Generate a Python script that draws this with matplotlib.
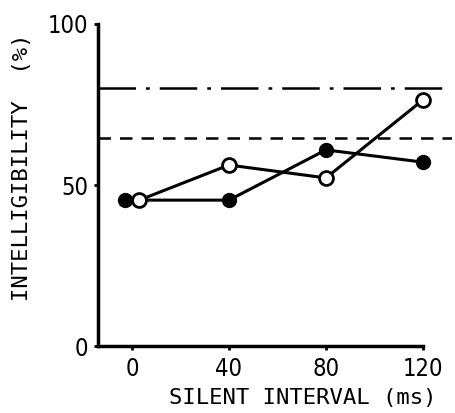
"""Intelligibility vs. silent interval, two listener conditions."""
import matplotlib
matplotlib.use("Agg")
import matplotlib.pyplot as plt

# silent interval (ms); small horizontal offsets at 0 as in the original
filled_x = [-3, 40, 80, 120]
filled_y = [45.3, 45.3, 60.9, 57.1]
open_x = [3, 40, 80, 120]
open_y = [45.3, 56.2, 52.2, 76.4]

ref_dashdot = 80.1
ref_dashed = 64.6

x_ticks = [0, 40, 80, 120]
y_ticks = [0, 50, 100]

MONO = "DejaVu Sans Mono"


def main():
    fig = plt.figure(figsize=(4.55, 4.13), dpi=100)
    ax = fig.add_axes([0.2154, 0.1622, 0.778, 0.7797])

    ax.axhline(ref_dashdot, color="black", lw=1.8, ls=(0, (15, 4, 1.5, 4)))
    ax.axhline(ref_dashed, color="black", lw=1.8, ls=(0, (5, 3.6)))

    ax.plot(filled_x, filled_y, color="black", lw=2.2, marker="o", ms=10,
            mfc="black", mec="black", zorder=3)
    ax.plot(open_x, open_y, color="black", lw=2.2, marker="o", ms=10,
            mfc="white", mec="black", mew=2.0, zorder=4)

    ax.set_xlim(-14, 132)
    ax.set_ylim(0, 100)
    ax.spines["top"].set_visible(False)
    ax.spines["right"].set_visible(False)
    ax.spines["left"].set_linewidth(2.5)
    ax.spines["bottom"].set_linewidth(2.5)
    ax.spines["bottom"].set_bounds(-14, 120)

    ax.set_xticks(x_ticks)
    ax.set_xticklabels([str(v) for v in x_ticks], family="DejaVu Sans",
                       fontsize=17, fontstretch="condensed")
    ax.set_yticks(y_ticks)
    ax.set_yticklabels([str(v) for v in y_ticks], family="DejaVu Sans",
                       fontsize=17, fontstretch="condensed")
    ax.tick_params(axis="x", direction="out", length=3, width=2, pad=5)
    ax.tick_params(axis="y", direction="out", length=3, width=2, pad=4)

    ax.set_xlabel("SILENT INTERVAL (ms)", family=MONO, fontsize=16,
                  va="center")
    ax.xaxis.set_label_coords(0.579, -0.161)
    ax.set_ylabel("INTELLIGIBILITY  (%)", family=MONO, fontsize=16,
                  va="center")
    ax.yaxis.set_label_coords(-0.215, 0.555)

    fig.savefig("out.png", dpi=100)


if __name__ == "__main__":
    main()
